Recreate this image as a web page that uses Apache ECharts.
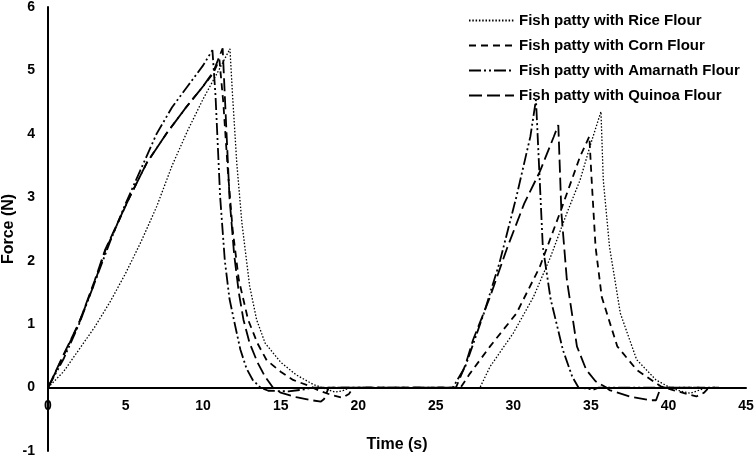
<!DOCTYPE html>
<html>
<head>
<meta charset="utf-8">
<script src="https://cdn.jsdelivr.net/npm/echarts@6/dist/echarts.min.js"></script>
<style>
html,body{margin:0;padding:0;background:#fff;}
#chart{width:755px;height:458px;}
</style>
</head>
<body>
<div id="chart"></div>
<script>
// ---- Data ----
const seriesNames = [
  'Fish patty with Rice Flour',
  'Fish patty with Corn Flour',
  'Fish patty with Amarnath Flour',
  'Fish patty with Quinoa Flour'
];
const xTicks = [0,5,10,15,20,25,30,35,40,45];
const yTicks = [-1,0,1,2,3,4,5,6];

const riceT = [0,1,2,3,4,5,6,7,8,9,10,11,11.73,11.9,12.17,12.5,12.8,13.0,13.45,14.0,15.0,16.0,17.1,18.0,18.5,19.0,19.5,22,25,27.85,28.5,30.0,31.3,32.4,33.45,34.3,35.0,35.65,35.8,36.2,36.9,37.95,39.2,40.1,40.7,41.4,42.0,42.5,44];
const riceF = [0,0.25,0.6,0.95,1.35,1.8,2.3,2.85,3.5,4.05,4.55,5.0,5.34,4.6,3.54,2.6,2.0,1.6,1.07,0.7,0.4,0.2,0.05,-0.03,-0.07,-0.05,0,0,0,0,0.33,0.86,1.43,2.06,2.75,3.27,3.85,4.35,3.27,2.22,1.17,0.44,0.12,0,-0.05,-0.09,-0.04,0,0];

const cornT = [0,1,2,3,3.68,5.18,6.36,7.65,8.94,10.0,10.66,11.05,11.3,11.6,11.9,12.3,12.9,13.5,14.1,15.0,15.8,16.8,17.5,18.3,19.0,19.4,19.7,22,26.6,27.2,28.5,30.2,31.7,33.0,34.3,34.9,35.05,35.3,35.7,36.7,37.95,39.5,40.3,41.8,42.3,42.6,43.5];
const cornF = [0,0.5,1.02,1.65,2.15,2.96,3.54,4.01,4.43,4.75,4.96,5.17,4.5,3.4,2.5,1.7,1.07,0.7,0.43,0.25,0.12,0.03,-0.05,-0.12,-0.16,-0.1,0,0,0,0.22,0.65,1.17,1.9,2.75,3.64,3.96,3.27,2.22,1.43,0.65,0.28,0.02,-0.04,-0.14,-0.08,0,0];

const amarT = [0,1,2,3,4,5,6,7,8,9,10,10.6,10.8,11.1,11.4,11.7,12.0,12.4,12.8,13.2,13.7,14.2,15.5,16.5,17.0,22,26.1,26.9,28.1,29.1,30.2,31.1,31.46,31.6,31.9,32.4,33.2,33.8,34.2,35.2,35.5,43];
const amarF = [0,0.45,1.0,1.65,2.3,2.9,3.45,4.0,4.42,4.75,5.08,5.32,4.6,3.0,2.0,1.4,1.05,0.6,0.3,0.12,0,-0.05,-0.06,-0.03,0,0,0,0.33,1.17,1.96,3.01,3.96,4.54,3.8,2.22,1.4,0.59,0.17,0,-0.03,0,0];

const quinT = [0,1,2,3,3.68,5.18,6.36,7.65,8.94,10.0,10.66,11.26,11.4,11.7,12.0,12.3,12.6,13.0,13.5,14.0,14.5,15.0,16.0,17.0,17.6,17.8,18.1,22,26.3,26.9,27.4,28.5,29.6,30.7,31.7,32.6,32.9,33.1,33.45,34.1,34.7,35.3,36.0,36.2,37.5,38.8,39.2,39.5,42];
const quinF = [0,0.52,1.02,1.68,2.17,2.96,3.54,4.01,4.43,4.75,4.98,5.35,4.6,3.0,2.1,1.5,1.07,0.7,0.4,0.17,0,-0.08,-0.15,-0.2,-0.22,-0.18,0,0,0,0.35,0.75,1.43,2.2,2.9,3.4,3.95,4.14,2.75,1.7,0.65,0.28,0.1,0,-0.04,-0.14,-0.2,-0.2,0,0];

// ---- Build ----
function pairs(t, f){ return t.map((v,i)=>[v,f[i]]); }
const dataSets = [pairs(riceT,riceF), pairs(cornT,cornF), pairs(amarT,amarF), pairs(quinT,quinF)];
const styles = [
  {width:1.3, type:[1.5,1.8]},
  {width:1.8, type:[7,5]},
  {width:1.8, type:[12,3,2,3,2,3]},
  {width:1.8, type:[13,5]}
];

const W = 755, H = 458;
const gLeft = 48, gRight = 9, gTop = 7, gBottom = 7;
const yMin = -1, yMax = 6;
// the zero line position, used to place the tick-label axis (a layout value, from the y scale)
const plotH = H - gTop - gBottom;
const zeroFromBottom = gBottom + plotH * (0 - yMin) / (yMax - yMin);

const chart = echarts.init(document.getElementById('chart'), null, {renderer:'canvas'});
const font = 'Liberation Sans, Arial, Helvetica, sans-serif';
const lbl = {fontFamily:font,fontWeight:'bold',fontSize:14,color:'#000'};
const nameStyle = {fontFamily:font,fontWeight:'bold',fontSize:16,color:'#000'};
chart.setOption({
  animation:false,
  backgroundColor:'#fff',
  grid:[
    {left:gLeft,right:gRight,top:gTop,bottom:gBottom,containLabel:false,outerBoundsMode:'none'},
    {left:gLeft,right:gRight,top:gTop,bottom:zeroFromBottom,containLabel:false,outerBoundsMode:'none'}
  ],
  legend:{
    orient:'vertical', left:463, top:8, align:'left',
    itemWidth:45, itemHeight:14, itemGap:10,
    itemStyle:{opacity:0},
    textStyle:{fontFamily:font,fontWeight:'bold',fontSize:15,color:'#000'},
    data:seriesNames
  },
  xAxis:[{
    gridIndex:0, type:'value', min:0, max:45, interval:5,
    axisLine:{onZero:true,lineStyle:{color:'#000',width:2}},
    axisTick:{show:false}, splitLine:{show:false}, axisLabel:{show:false}
  },{
    gridIndex:1, type:'value', min:0, max:45, interval:5, position:'bottom',
    name:'Time (s)', nameLocation:'middle', nameGap:49, nameTextStyle:nameStyle,
    nameMoveOverlap:false,
    axisLine:{show:false,onZero:false}, axisTick:{show:false}, splitLine:{show:false},
    axisLabel:Object.assign({margin:12, formatter:v=>xTicks.includes(v)?String(v):''}, lbl)
  }],
  yAxis:[{
    gridIndex:0, type:'value', min:yMin, max:yMax, interval:1,
    name:'Force (N)', nameLocation:'middle', nameGap:31, nameTextStyle:nameStyle,
    nameMoveOverlap:false,
    axisLine:{show:true,onZero:false,lineStyle:{color:'#000',width:2}},
    axisTick:{show:false}, splitLine:{show:false},
    axisLabel:Object.assign({margin:13, formatter:v=>yTicks.includes(v)?String(v):''}, lbl)
  },{
    gridIndex:1, type:'value', min:0, max:1, show:false
  }],
  series: seriesNames.map((n,i)=>({
    name:n, type:'line', xAxisIndex:0, yAxisIndex:0, data:dataSets[i], symbol:'none', showSymbol:false,
    smooth:false,
    lineStyle:{color:'#000', width:styles[i].width, type:styles[i].type},
    itemStyle:{color:'#000'}
  }))
});
</script>
</body>
</html>
